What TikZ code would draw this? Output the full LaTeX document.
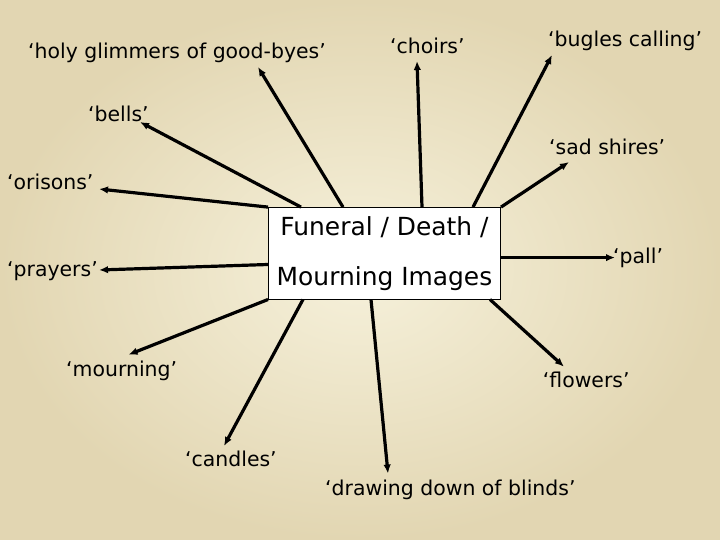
\documentclass[tikz,border=0pt]{standalone}
\usepackage{fontspec}
\setmainfont{DejaVu Sans}
\usetikzlibrary{arrows.meta,positioning}
\definecolor{paperin}{RGB}{246,241,219}
\definecolor{paperout}{RGB}{226,214,178}

\begin{document}
\begin{tikzpicture}[x=1bp,y=-1bp]
\tikzstyle{word}=[font=\fontsize{20.5}{24}\selectfont, inner sep=0pt, anchor=base west]
\tikzstyle{topic}=[rectangle, draw=black, fill=white, line width=1bp, minimum width=232bp, minimum height=91.4bp, align=center, font=\fontsize{25}{50}\selectfont]
\tikzstyle{connect}=[-{Latex[length=9bp,width=7.5bp]}, line width=3.2bp]
\useasboundingbox (0,0) rectangle (720,540);
\shade[inner color=paperin, outer color=paperout] (0,0) rectangle (720,540);
  \node[topic] (box) at (384.5,253.3) {Funeral / Death /\\Mourning Images};
\node[word] (holy) at (28,58.5) {‘holy glimmers of good-byes’};
  \node[word] (choirs) at (390,53.3) {‘choirs’};
  \node[word] (bugles) at (548,47) {‘bugles calling’};
  \node[word] (bells) at (88,121.7) {‘bells’};
  \node[word] (shires) at (549,155) {‘sad shires’};
  \node[word] (orisons) at (7,190) {‘orisons’};
  \node[word] (prayers) at (7,277) {‘prayers’};
  \node[word] (pall) at (613,263.4) {‘pall’};
  \node[word] (mourning) at (66,376.7) {‘mourning’};
  \node[word] (flowers) at (542.7,387.3) {‘flowers’};
  \node[word] (candles) at (185,466.7) {‘candles’};
  \node[word] (blinds) at (325,495) {‘drawing down of blinds’};
% arrow tips
\coordinate (holy tip) at (258,67);
\coordinate (choirs tip) at (417,61);
\coordinate (bugles tip) at (552,55);
\coordinate (bells tip) at (140,122);
\coordinate (shires tip) at (569,162);
\coordinate (orisons tip) at (99,189);
\coordinate (prayers tip) at (99,270);
\coordinate (pall tip) at (615,257.6);
\coordinate (mourning tip) at (128.5,354.7);
\coordinate (flowers tip) at (564,366.7);
\coordinate (candles tip) at (224,446);
\coordinate (blinds tip) at (388,473.5);
\path[connect] (box.north -| 343,0) edge (holy tip)
           (box.north -| 422,0) edge (choirs tip)
           (box.north -| 473,0) edge (bugles tip)
           (box.north -| 301,0) edge (bells tip)
           (box.north east) edge (shires tip)
           (box.north west) edge (orisons tip)
           (box.west |- 0,264.5) edge (prayers tip)
           (box.east |- 0,257.6) edge (pall tip)
           (box.south west) edge (mourning tip)
           (box.south -| 490,0) edge (flowers tip)
           (box.south -| 303,0) edge (candles tip)
           (box.south -| 371,0) edge (blinds tip)
           ;
\end{tikzpicture}
\end{document}
